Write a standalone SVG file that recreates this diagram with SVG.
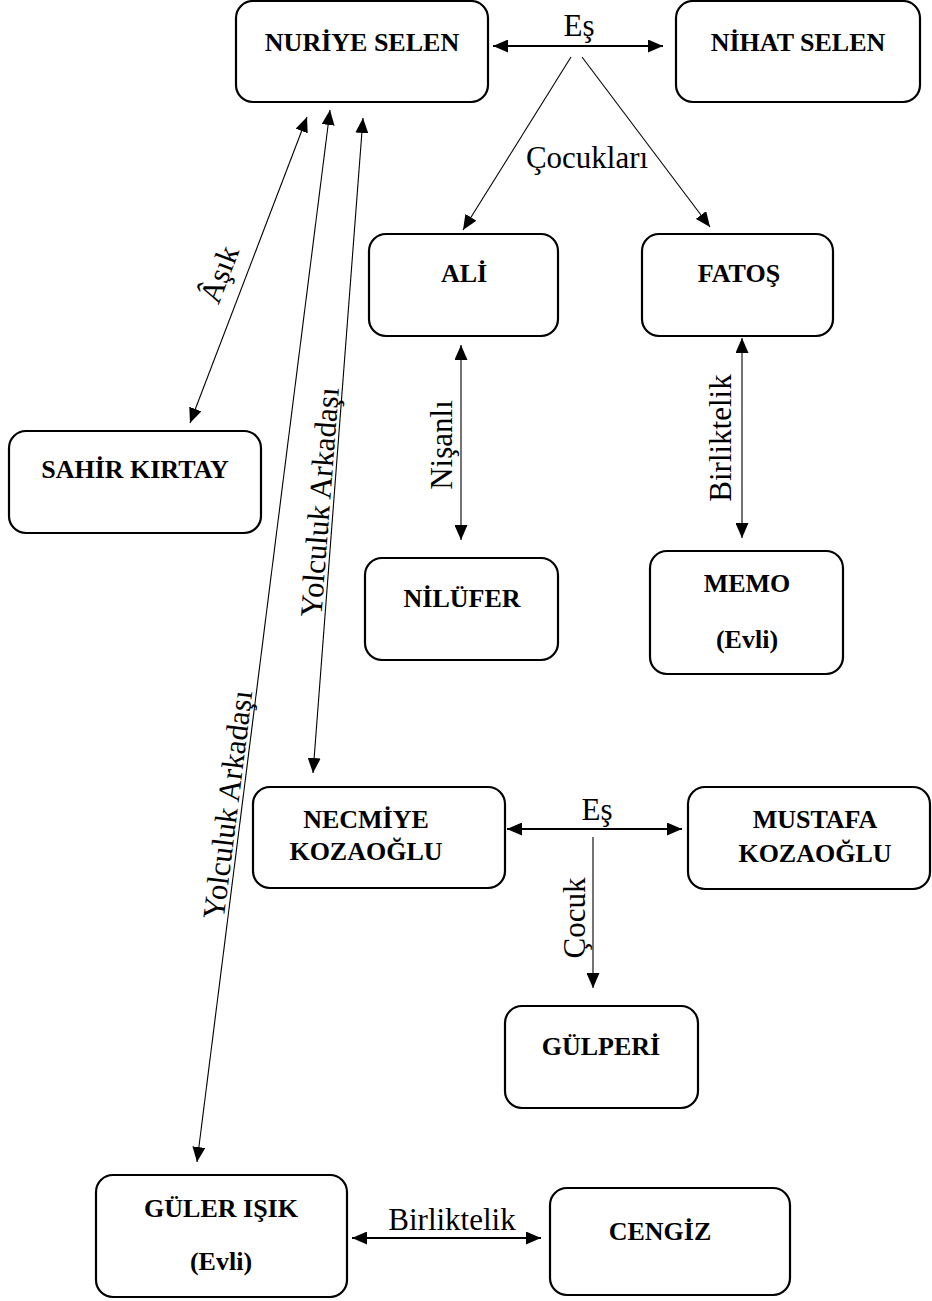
<svg xmlns="http://www.w3.org/2000/svg" width="932" height="1301" viewBox="0 0 932 1301">
<style>
.box{fill:#fff;stroke:#000;stroke-width:2.2}
.nt{font-family:"Liberation Serif","Times New Roman",serif;font-weight:bold;font-size:26px;text-anchor:middle;fill:#000}
.lb{font-family:"Liberation Serif","Times New Roman",serif;font-size:31px;text-anchor:middle;fill:#000}
.ln{stroke:#000;stroke-width:1.1;fill:none}
.lnb{stroke:#000;stroke-width:1.8;fill:none}
</style>
<defs>
<marker id="ah" markerUnits="userSpaceOnUse" markerWidth="15" markerHeight="13" refX="15" refY="6.5" orient="auto-start-reverse">
<path d="M0,0 L15,6.5 L0,13 z" fill="#000"/>
</marker>
</defs>
<rect width="932" height="1301" fill="#fff"/>
<g id="connectors">
<line class="lnb" x1="493" y1="46" x2="663" y2="46" marker-start="url(#ah)" marker-end="url(#ah)"/>
<text class="lb" x="579" y="36">Eş</text>
<line class="ln" x1="571" y1="57" x2="463" y2="230" marker-end="url(#ah)"/>
<line class="ln" x1="582" y1="57" x2="710" y2="227" marker-end="url(#ah)"/>
<text class="lb" x="587" y="168">Çocukları</text>
<line class="ln" x1="307" y1="117" x2="190" y2="423" marker-start="url(#ah)" marker-end="url(#ah)"/>
<text class="lb" transform="translate(229,278) rotate(-69)">Âşık</text>
<line class="ln" x1="330" y1="110" x2="197" y2="1162" marker-start="url(#ah)" marker-end="url(#ah)"/>
<text class="lb" transform="translate(238,806) rotate(-82.8)">Yolculuk Arkadaşı</text>
<line class="ln" x1="363" y1="118" x2="313" y2="773" marker-start="url(#ah)" marker-end="url(#ah)"/>
<text class="lb" transform="translate(330,503) rotate(-85.6)">Yolculuk Arkadaşı</text>
<line class="ln" x1="461" y1="345" x2="461" y2="540" marker-start="url(#ah)" marker-end="url(#ah)"/>
<text class="lb" transform="translate(452,445) rotate(-90)">Nişanlı</text>
<line class="ln" x1="742" y1="338" x2="742" y2="538" marker-start="url(#ah)" marker-end="url(#ah)"/>
<text class="lb" transform="translate(731,438) rotate(-90)">Birliktelik</text>
<line class="lnb" x1="507" y1="829" x2="682" y2="829" marker-start="url(#ah)" marker-end="url(#ah)"/>
<text class="lb" x="597" y="820">Eş</text>
<line class="ln" x1="593" y1="837" x2="593" y2="988" marker-end="url(#ah)"/>
<text class="lb" transform="translate(585,918) rotate(-90)">Çocuk</text>
<line class="lnb" x1="352" y1="1238" x2="541" y2="1238" marker-start="url(#ah)" marker-end="url(#ah)"/>
<text class="lb" x="452" y="1230">Birliktelik</text>
</g>
<g id="n-nuriye"><rect class="box" x="236" y="1" width="252" height="101" rx="17"/><text class="nt" x="362" y="51">NURİYE SELEN</text></g>
<g id="n-nihat"><rect class="box" x="676" y="1" width="244" height="101" rx="17"/><text class="nt" x="798" y="51">NİHAT SELEN</text></g>
<g id="n-ali"><rect class="box" x="369" y="234" width="189" height="102" rx="17"/><text class="nt" x="464" y="282">ALİ</text></g>
<g id="n-fatos"><rect class="box" x="642" y="234" width="191" height="102" rx="17"/><text class="nt" x="739" y="282">FATOŞ</text></g>
<g id="n-sahir"><rect class="box" x="9" y="431" width="252" height="102" rx="17"/><text class="nt" x="135" y="478">SAHİR KIRTAY</text></g>
<g id="n-nilufer"><rect class="box" x="365" y="558" width="193" height="102" rx="17"/><text class="nt" x="462" y="607">NİLÜFER</text></g>
<g id="n-memo"><rect class="box" x="650" y="551" width="193" height="123" rx="17"/><text class="nt" x="747" y="592">MEMO</text><text class="nt" x="747" y="648">(Evli)</text></g>
<g id="n-necmiye"><rect class="box" x="253" y="787" width="252" height="101" rx="17"/><text class="nt" x="366" y="828">NECMİYE</text><text class="nt" x="366" y="860">KOZAOĞLU</text></g>
<g id="n-mustafa"><rect class="box" x="688" y="787" width="242" height="102" rx="17"/><text class="nt" x="815" y="828">MUSTAFA</text><text class="nt" x="815" y="862">KOZAOĞLU</text></g>
<g id="n-gulperi"><rect class="box" x="505" y="1006" width="193" height="102" rx="17"/><text class="nt" x="601" y="1055">GÜLPERİ</text></g>
<g id="n-guler"><rect class="box" x="96" y="1175" width="251" height="122" rx="17"/><text class="nt" x="221" y="1217">GÜLER IŞIK</text><text class="nt" x="221" y="1270">(Evli)</text></g>
<g id="n-cengiz"><rect class="box" x="550" y="1188" width="240" height="107" rx="17"/><text class="nt" x="660" y="1240">CENGİZ</text></g>
</svg>
